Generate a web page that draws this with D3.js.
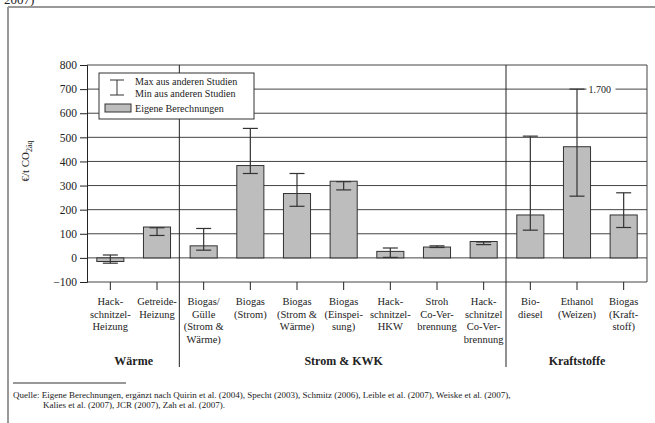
<!DOCTYPE html>
<html>
<head>
<meta charset="utf-8">
<script src="https://cdn.jsdelivr.net/npm/d3@7"></script>
<style>
  body { margin: 0; background: #fff; }
  svg, svg text { font-family: "Liberation Serif", "DejaVu Serif", serif !important; fill: #222; }
</style>
</head>
<body>
<div id="chart"></div>
<script>
// categories (multi-line labels)
var categories = [
    ["Hack-", "schnitzel-", "Heizung"],
    ["Getreide-", "Heizung"],
    ["Biogas/", "Gülle", "(Strom &", "Wärme)"],
    ["Biogas", "(Strom)"],
    ["Biogas", "(Strom &", "Wärme)"],
    ["Biogas", "(Einspei-", "sung)"],
    ["Hack-", "schnitzel-", "HKW"],
    ["Stroh", "Co-Ver-", "brennung"],
    ["Hack-", "schnitzel", "Co-Ver-", "brennung"],
    ["Bio-", "diesel"],
    ["Ethanol", "(Weizen)"],
    ["Biogas", "(Kraft-", "stoff)"]
];

var ownValues = [-15, 128, 50, 383, 267, 318, 27, 45, 68, 178, 461, 178];
var maxValues = [12, 125, 122, 537, 350, 316, 41, 50, 66, 505, 1700, 270];
var minValues = [-22, 93, 32, 350, 214, 282, 2, 43, 55, 115, 256, 126];

var groups = [
    {name: "Wärme", from: 0, to: 1},
    {name: "Strom & KWK", from: 2, to: 8},
    {name: "Kraftstoffe", from: 9, to: 11}
];

var yTicks = [-100, 0, 100, 200, 300, 400, 500, 600, 700, 800];
var capValue = 700; // values above the axis are drawn here with a label

var width = 655, height = 423;

var svg = d3.select("#chart").append("svg")
    .attr("width", width)
    .attr("height", height)
    .attr("font-family", "Liberation Serif");

// page frame
svg.append("text")
    .attr("x", 4).attr("y", 4)
    .style("font-size", "13px")
    .text("2007)");
svg.append("line")
    .attr("x1", 8).attr("x2", width).attr("y1", 7).attr("y2", 7)
    .attr("stroke", "#999").attr("stroke-width", 2);
svg.append("line")
    .attr("x1", 8).attr("x2", 8).attr("y1", 7).attr("y2", height)
    .attr("stroke", "#999").attr("stroke-width", 2);

var x = d3.scaleBand()
    .domain(d3.range(categories.length))
    .range([87, 647]);

var y = d3.scaleLinear()
    .domain([-100, 800])
    .range([282, 65]);

var barW = x.bandwidth() * 0.58;
var capW = 15;

// gridlines
svg.append("g")
    .selectAll("line")
    .data(yTicks)
    .join("line")
    .attr("x1", 87).attr("x2", 647)
    .attr("y1", d => y(d)).attr("y2", d => y(d))
    .attr("stroke", "#444").attr("stroke-width", 1);

// right frame of plot
svg.append("line")
    .attr("x1", 647).attr("x2", 647).attr("y1", y(800)).attr("y2", y(-100))
    .attr("stroke", "#444");

// y axis
var yAxis = svg.append("g")
    .attr("transform", "translate(87,0)")
    .call(d3.axisLeft(y).tickValues(yTicks).tickSize(7).tickPadding(3));
yAxis.attr("font-family", null);
yAxis.select(".domain").attr("stroke", "#222");
yAxis.selectAll(".tick line").attr("stroke", "#222");
yAxis.selectAll("text")
    .style("font-size", "11.5px")
    .attr("fill", "#222");

// y label
var yl = svg.append("text")
    .attr("transform", "translate(29,161) rotate(-90)")
    .attr("text-anchor", "middle")
    .style("font-size", "11px");
yl.append("tspan").text("€/t CO");
yl.append("tspan").attr("dy", 3).style("font-size", "8px").text("2äq");

// x ticks
svg.append("g")
    .selectAll("line")
    .data(d3.range(categories.length))
    .join("line")
    .attr("x1", d => x(d) + x.bandwidth() / 2)
    .attr("x2", d => x(d) + x.bandwidth() / 2)
    .attr("y1", y(-100)).attr("y2", y(-100) + 8)
    .attr("stroke", "#222");

// group separators
svg.append("g")
    .selectAll("line")
    .data(groups.slice(1))
    .join("line")
    .attr("x1", d => x(d.from) - 1).attr("x2", d => x(d.from) - 1)
    .attr("y1", y(800)).attr("y2", 367)
    .attr("stroke", "#222");

// bars
svg.append("g")
    .selectAll("rect")
    .data(ownValues)
    .join("rect")
    .attr("x", (d, i) => x(i) + (x.bandwidth() - barW) / 2)
    .attr("y", d => y(Math.max(0, d)))
    .attr("width", barW)
    .attr("height", d => Math.abs(y(d) - y(0)))
    .attr("fill", "#bdbdbd")
    .attr("stroke", "#333")
    .attr("stroke-width", 1);

// error bars
var eb = svg.append("g")
    .selectAll("g")
    .data(d3.range(categories.length))
    .join("g")
    .attr("stroke", "#333")
    .attr("stroke-width", 1.2);

eb.append("line")
    .attr("x1", i => x(i) + x.bandwidth() / 2)
    .attr("x2", i => x(i) + x.bandwidth() / 2)
    .attr("y1", i => y(Math.min(maxValues[i], capValue)))
    .attr("y2", i => y(minValues[i]));
eb.append("line")
    .attr("x1", i => x(i) + x.bandwidth() / 2 - capW / 2)
    .attr("x2", i => x(i) + x.bandwidth() / 2 + capW / 2)
    .attr("y1", i => y(Math.min(maxValues[i], capValue)))
    .attr("y2", i => y(Math.min(maxValues[i], capValue)));
eb.append("line")
    .attr("x1", i => x(i) + x.bandwidth() / 2 - capW / 2)
    .attr("x2", i => x(i) + x.bandwidth() / 2 + capW / 2)
    .attr("y1", i => y(minValues[i]))
    .attr("y2", i => y(minValues[i]));

// label for clipped maximum
var clipped = d3.range(categories.length).filter(i => maxValues[i] > 800);
var cl = svg.append("g")
    .selectAll("g")
    .data(clipped)
    .join("g");
cl.append("rect")
    .attr("x", i => x(i) + x.bandwidth() / 2 + capW / 2 + 2)
    .attr("y", y(capValue) - 5)
    .attr("width", 29).attr("height", 10)
    .attr("fill", "#fff");
cl.append("text")
    .attr("x", i => x(i) + x.bandwidth() / 2 + capW / 2 + 4)
    .attr("y", y(capValue) + 3.5)
    .style("font-size", "10px")
    .text(i => d3.format(",")(maxValues[i]).replace(",", "."));

// category labels
svg.append("g")
    .selectAll("text")
    .data(categories)
    .join("text")
    .attr("text-anchor", "middle")
    .style("font-size", "10.5px")
    .each(function(lines, i) {
        d3.select(this).selectAll("tspan")
            .data(lines)
            .join("tspan")
            .attr("x", x(i) + x.bandwidth() / 2)
            .attr("y", (d, j) => 305 + j * 12.7)
            .text(d => d);
    });

// group labels
svg.append("g")
    .selectAll("text")
    .data(groups)
    .join("text")
    .attr("x", d => (x(d.from) + x(d.to) + x.bandwidth()) / 2)
    .attr("y", 365)
    .attr("text-anchor", "middle")
    .style("font-size", "12px")
    .style("font-weight", "bold")
    .text(d => d.name);

// legend
var lg = svg.append("g");
lg.append("rect")
    .attr("x", 99).attr("y", 73).attr("width", 155).attr("height", 46)
    .attr("fill", "#fff").attr("stroke", "#333");
lg.append("line").attr("x1", 117).attr("x2", 117).attr("y1", 80).attr("y2", 95).attr("stroke", "#333");
lg.append("line").attr("x1", 110).attr("x2", 124).attr("y1", 80).attr("y2", 80).attr("stroke", "#333");
lg.append("line").attr("x1", 110).attr("x2", 124).attr("y1", 95).attr("y2", 95).attr("stroke", "#333");
lg.append("rect")
    .attr("x", 105).attr("y", 104).attr("width", 26).attr("height", 8)
    .attr("fill", "#bdbdbd").attr("stroke", "#333");
var legendTexts = ["Max aus anderen Studien", "Min aus anderen Studien", "Eigene Berechnungen"];
lg.selectAll("text.leg")
    .data(legendTexts)
    .join("text")
    .attr("class", "leg")
    .attr("x", 135)
    .attr("y", (d, i) => [85, 97, 112][i])
    .style("font-size", "10.1px")
    .text(d => d);

// footnote
svg.append("line")
    .attr("x1", 13).attr("x2", 126).attr("y1", 383).attr("y2", 383)
    .attr("stroke", "#333");
svg.append("text")
    .attr("x", 13).attr("y", 398)
    .style("font-size", "9px")
    .text("Quelle: Eigene Berechnungen, ergänzt nach Quirin et al. (2004), Specht (2003), Schmitz (2006), Leible et al. (2007), Weiske et al. (2007),");
svg.append("text")
    .attr("x", 43).attr("y", 408)
    .style("font-size", "9px")
    .text("Kalies et al. (2007), JCR (2007), Zah et al. (2007).");
</script>
</body>
</html>
